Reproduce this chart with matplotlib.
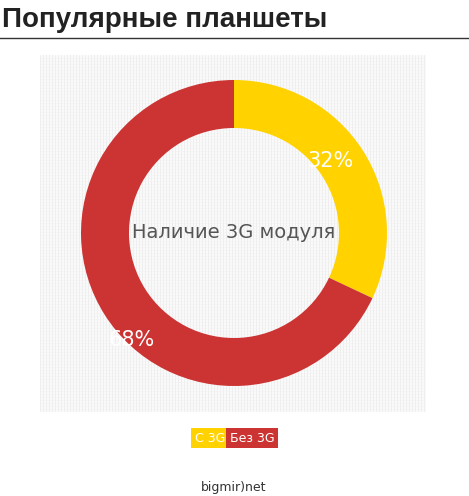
import matplotlib.pyplot as plt
from matplotlib.patches import Rectangle

categories = ["С 3G", "Без 3G"]
values = [32, 68]
colors = ["#ffd200", "#cc3333"]
W, H = 469, 496
narrow = ["Liberation Sans Narrow", "DejaVu Sans"]

fig = plt.figure(figsize=(W / 100, H / 100), dpi=100)
fig.patch.set_facecolor("white")

def px_axes(x0, y0, x1, y1):
    return fig.add_axes([x0 / W, 1 - y1 / H, (x1 - x0) / W, (y1 - y0) / H])

# title and rule
fig.text(2 / W, 1 - 20 / H, "Популярные планшеты", fontsize=20, fontweight="bold",
         color="#222222", va="center", ha="left", family="Liberation Sans")
fig.add_artist(plt.Line2D([0, 1], [1 - 38 / H] * 2, color="#333333", lw=1))

# dotted background panel
bg = px_axes(40, 55, 426, 412)
bg.set_xlim(0, 386)
bg.set_ylim(0, 357)
bg.add_patch(Rectangle((0, 0), 386, 357, color="#fafafa"))
for x in range(0, 386, 3):
    bg.axvline(x, color="#ececec", lw=0.6)
for y in range(0, 357, 3):
    bg.axhline(y, color="#f2f2f2", lw=0.4)
bg.axis("off")

# donut
ax = px_axes(234 - 153, 233 - 153, 234 + 153, 233 + 153)
wedges, _ = ax.pie(values, colors=colors, startangle=90, counterclock=False,
                   radius=1, wedgeprops=dict(width=48 / 153, edgecolor="none"))
ax.set_xlim(-1, 1)
ax.set_ylim(-1, 1)
ax.set_aspect("equal")
ax.text(0, 0, "Наличие 3G модуля", ha="center", va="center", fontsize=14,
        color="#555555", family=narrow)
ax.text(0.63, 0.47, f"{values[0]}%", ha="center", va="center", fontsize=15,
        color="white", family=narrow)
ax.text(-0.67, -0.7, f"{values[1]}%", ha="center", va="center", fontsize=15,
        color="white", family=narrow)

# legend boxes
for label, c, x0, w in [(categories[0], colors[0], 193, 34), (categories[1], colors[1], 230, 44)]:
    fig.text((x0 + w / 2) / W, 1 - 438 / H, label, ha="center", va="center", fontsize=9,
             color="white", family=narrow,
             bbox=dict(boxstyle="square,pad=0.3", fc=c, ec="none"))

fig.text(234 / W, 1 - 487 / H, "bigmir)net", ha="center", va="center", fontsize=9,
         color="#333333", family=narrow)

fig.savefig("out.png", dpi=100)
